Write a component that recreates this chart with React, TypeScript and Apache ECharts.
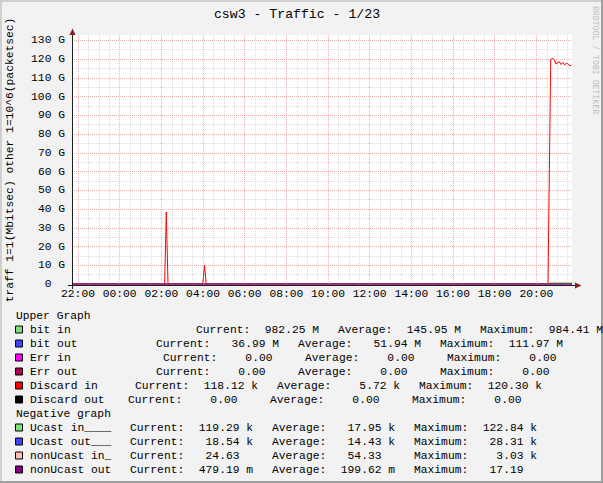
import React, { useEffect, useRef } from "react";
import * as echarts from "echarts";

const chartTitle = "csw3 - Traffic - 1/23";
const yAxisTitle = "traff 1=1(Mbitsec) other 1=10^6(packetsec)";
const watermark = "RRDTOOL / TOBI OETIKER";

// time in hours after 22:00 of the first day
const timeStart = -0.288;
const timeEnd = 23.712;
const xTickHours = [0, 2, 4, 6, 8, 10, 12, 14, 16, 18, 20, 22];
const xTickLabels = ["22:00", "00:00", "02:00", "04:00", "06:00", "08:00", "10:00", "12:00", "14:00", "16:00", "18:00", "20:00"];

// value axis in G
const yMax = 132.8;
const yTickValues = [0, 10, 20, 30, 40, 50, 60, 70, 80, 90, 100, 110, 120, 130];

// upper graph series (G)
const bitIn: [number, number][] = [
  [-0.288, 0.09], [4.0, 0.1], [12.0, 0.08], [18.0, 0.11], [22.56, 0.1], [22.64, 0.97], [23.0, 0.98], [23.4, 0.98], [23.712, 0.98],
];
const bitOut: [number, number][] = [
  [-0.288, 0.05], [8.0, 0.04], [18.3, 0.05], [18.38, 0.11], [18.46, 0.05], [22.6, 0.04], [23.712, 0.037],
];
const errIn: [number, number][] = [[-0.288, 0], [23.712, 0]];
const errOut: [number, number][] = [[-0.288, 0], [23.712, 0]];
const discardIn: [number, number][] = [
  [-0.288, 0], [4.157, 0], [4.238, 38.4], [4.32, 0], [5.99, 0], [6.072, 10.1], [6.154, 0], [22.56, 0],
  [22.69, 119.8], [22.78, 120.3], [22.86, 119.6], [22.94, 117.3], [23.02, 118.0], [23.1, 118.6], [23.18, 117.1],
  [23.27, 118.2], [23.35, 116.9], [23.44, 117.7], [23.52, 117.5], [23.6, 116.3], [23.68, 116.8],
];
const discardOut: [number, number][] = [[-0.288, 0], [23.712, 0]];
// negative graph series (G, drawn below zero)
const ucastIn: [number, number][] = [[-0.288, -10.5], [22.56, -11.0], [22.69, -122.8], [23.68, -119.3]];
const ucastOut: [number, number][] = [[-0.288, -14.0], [22.56, -13.8], [22.69, -28.3], [23.68, -18.5]];
const nonUcastIn: [number, number][] = [[-0.288, -0.05], [22.56, -0.06], [23.68, -0.025]];
const nonUcastOut: [number, number][] = [[-0.288, -0.0002], [22.56, -0.0002], [23.68, -0.0005]];

// legend texts
const upperNames = ["bit in", "bit out", "Err in", "Err out", "Discard in", "Discard out"];
const upperColors = ["#80E080", "#4040FF", "#FF00FF", "#B00050", "#FF0000", "#000000"];
const upperCurrent = ["982.25 M", "36.99 M", "0.00", "0.00", "118.12 k", "0.00"];
const upperAverage = ["145.95 M", "51.94 M", "0.00", "0.00", "5.72 k", "0.00"];
const upperMaximum = ["984.41 M", "111.97 M", "0.00", "0.00", "120.30 k", "0.00"];
const negNames = ["Ucast in____", "Ucast out___", "nonUcast in_", "nonUcast out"];
const negColors = ["#80E080", "#4040FF", "#FFC0B8", "#800080"];
const negCurrent = ["119.29 k", "18.54 k", "24.63", "479.19 m"];
const negAverage = ["17.95 k", "14.43 k", "54.33", "199.62 m"];
const negMaximum = ["122.84 k", "28.31 k", "3.03 k", "17.19"];

const MONO = '"Liberation Mono", "DejaVu Sans Mono", monospace';
const FS = 11.3;
const CW = FS * 0.6;

function text(x: number, y: number, t: string, extra: any = {}) {
  return {
    type: "text",
    x,
    y,
    z: 100,
    silent: true,
    style: { text: t, fill: "#000", fontFamily: MONO, fontSize: FS, align: "left", verticalAlign: "middle", ...extra },
  };
}

function legendRows() {
  const els: any[] = [];
  const upperSegX = [196, 156, 163, 156, 135, 128];
  const rowsTop = 329.5;
  const rowH = 14;
  const addRow = (y: number, name: string, color: string, segX: number, vals: string[]) => {
    els.push({
      type: "rect",
      z: 100,
      silent: true,
      shape: { x: 15.5, y: y - 3.5, width: 7, height: 7 },
      style: { fill: color, stroke: "#000", lineWidth: 1 },
    });
    els.push(text(30, y, name));
    const labels = ["Current:", "Average:", "Maximum:"];
    vals.forEach((v, i) => {
      const sx = segX + i * 142;
      els.push(text(sx, y, labels[i]));
      const parts = v.split(" ");
      els.push(text(sx + 16 * CW + 1, y, parts[0], { align: "right" }));
      if (parts[1]) els.push(text(sx + 17 * CW + 1, y, parts[1]));
    });
  };
  els.push(text(16, 315.5, "Upper Graph"));
  upperNames.forEach((n, i) =>
    addRow(rowsTop + i * rowH, n, upperColors[i], upperSegX[i], [upperCurrent[i], upperAverage[i], upperMaximum[i]])
  );
  els.push(text(16, rowsTop + 6 * rowH, "Negative graph"));
  negNames.forEach((n, i) =>
    addRow(rowsTop + (7 + i) * rowH, n, negColors[i], 130, [negCurrent[i], negAverage[i], negMaximum[i]])
  );
  return els;
}

function buildOption() {
  const minorColor = "rgba(143,143,143,0.32)";
  const majorColor = "rgba(222,79,79,0.45)";
  const gridLines: any[] = [];
  for (let v = 5; v < yMax; v += 5) {
    const major = v % 10 === 0;
    gridLines.push({ yAxis: v, lineStyle: { color: major ? majorColor : minorColor, type: [1, 1], width: 1 } });
  }
  for (let h = 0; h <= timeEnd; h += 0.5) {
    const major = xTickHours.indexOf(h) >= 0;
    gridLines.push({ xAxis: h, lineStyle: { color: major ? majorColor : minorColor, type: [1, 1], width: 1 } });
  }

  const line = (name: string, data: [number, number][], color: string, extra: any = {}) => ({
    type: "line",
    name,
    data,
    z: 3,
    symbol: "none",
    showSymbol: false,
    silent: true,
    animation: false,
    lineStyle: { color, width: 1 },
    itemStyle: { color },
    emphasis: { disabled: true },
    ...extra,
  });

  const border = [
    { type: "rect", z: 100, silent: true, shape: { x: 0, y: 0, width: 603, height: 2 }, style: { fill: "#CFCFCF" } },
    { type: "rect", z: 100, silent: true, shape: { x: 0, y: 0, width: 2, height: 483 }, style: { fill: "#CFCFCF" } },
    { type: "rect", z: 100, silent: true, shape: { x: 0, y: 481, width: 603, height: 2 }, style: { fill: "#9E9E9E" } },
    { type: "rect", z: 100, silent: true, shape: { x: 601, y: 0, width: 2, height: 483 }, style: { fill: "#9E9E9E" } },
  ];
  const axes = [
    { type: "line", z: 100, silent: true, shape: { x1: 72.5, y1: 289, x2: 72.5, y2: 33 }, style: { stroke: "#1F1F1F", lineWidth: 1 } },
    { type: "polygon", z: 100, silent: true, shape: { points: [[69.5, 35], [75.5, 35], [72.5, 28.5]] }, style: { fill: "#801F1F" } },
    { type: "line", z: 100, silent: true, shape: { x1: 68, y1: 285.5, x2: 576, y2: 285.5 }, style: { stroke: "#1F1F1F", lineWidth: 1 } },
    { type: "polygon", z: 100, silent: true, shape: { points: [[575, 282.5], [575, 288.5], [581.5, 285.5]] }, style: { fill: "#801F1F" } },
  ];

  return {
    animation: false,
    backgroundColor: "#F2F2F2",
    grid: { left: 72, top: 35, width: 500, height: 249, show: true, backgroundColor: "#FFFFFF", borderWidth: 0 },
    xAxis: {
      type: "value",
      min: timeStart,
      max: timeEnd,
      axisLine: { show: false },
      axisTick: { show: false },
      splitLine: { show: false },
      axisLabel: {
        customValues: xTickHours,
        formatter: (v: number) => {
          const i = xTickHours.indexOf(Math.round(v * 1000) / 1000);
          return i >= 0 ? xTickLabels[i] : "";
        },
        fontFamily: MONO,
        fontSize: FS,
        color: "#000",
        margin: 4,
      },
    },
    yAxis: {
      type: "value",
      min: 0,
      max: yMax,
      interval: 10,
      axisLine: { show: false },
      axisTick: { show: false },
      splitLine: { show: false },
      axisLabel: {
        formatter: (v: number) => {
          if (yTickValues.indexOf(v) < 0) return "";
          return v === 0 ? "{z|0}" : v + " G";
        },
        rich: { z: { padding: [0, 13.5, 0, 0], fontFamily: MONO, fontSize: FS, color: "#000" } },
        fontFamily: MONO,
        fontSize: FS,
        color: "#000",
        margin: 7,
      },
    },
    series: [
      {
        type: "line",
        name: "grid",
        data: [],
        z: 1,
        silent: true,
        animation: false,
        markLine: {
          silent: true,
          animation: false,
          symbol: ["none", "none"],
          label: { show: false },
          emphasis: { disabled: true },
          data: gridLines,
        },
      },
      line("bit in", bitIn, "#80E080", { lineStyle: { width: 0, color: "#80E080" }, areaStyle: { color: "#80E080", opacity: 1 } }),
      line("bit out", bitOut, "#4040FF"),
      line("Err in", errIn, "#FF00FF"),
      line("Err out", errOut, "#B00050"),
      line("Discard in", discardIn, "#FF0000"),
      line("Discard out", discardOut, "#000000"),
      line("Ucast in", ucastIn, "#80E080"),
      line("Ucast out", ucastOut, "#4040FF"),
      line("nonUcast in", nonUcastIn, "#FFC0B8"),
      line("nonUcast out", nonUcastOut, "#800080", { clip: false }),
    ],
    graphic: [
      ...border,
      ...axes,
      {
        type: "text", x: 297, y: 14, z: 100, silent: true,
        style: { text: chartTitle, fill: "#000", fontFamily: MONO, fontSize: 13.2, align: "center", verticalAlign: "middle" },
      },
      {
        type: "text", x: 10, y: 160, rotation: Math.PI / 2, z: 100, silent: true,
        style: { text: yAxisTitle, fill: "#000", fontFamily: MONO, fontSize: FS, align: "center", verticalAlign: "middle" },
      },
      {
        type: "text", x: 595, y: 60, rotation: -Math.PI / 2, z: 100, silent: true,
        style: { text: watermark, fill: "#BDBDBD", fontFamily: MONO, fontSize: 8.2, align: "center", verticalAlign: "middle" },
      },
      ...legendRows(),
    ],
  };
}

export default function App() {
  const ref = useRef<HTMLDivElement>(null);
  useEffect(() => {
    if (!ref.current) return;
    const chart = echarts.init(ref.current, null, { renderer: "svg" });
    chart.setOption(buildOption() as any);
    return () => chart.dispose();
  }, []);
  return <div ref={ref} style={{ position: "fixed", left: 0, top: 0, width: 603, height: 483 }} />;
}
